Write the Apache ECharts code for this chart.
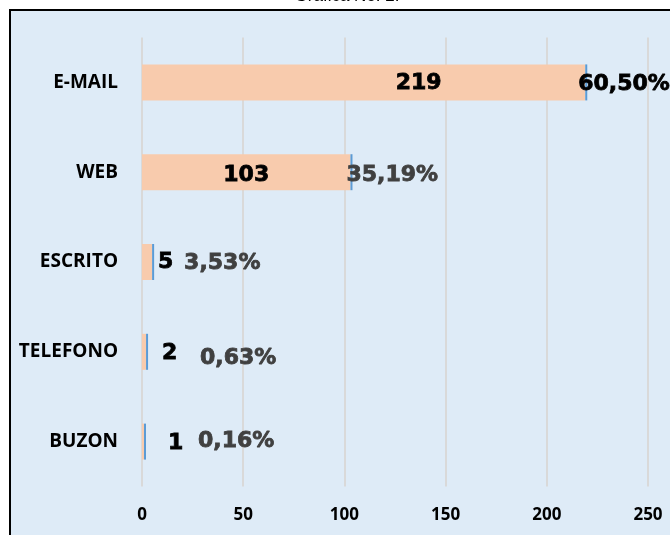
<!DOCTYPE html>
<html><head><meta charset="utf-8">
<script src="https://cdn.jsdelivr.net/npm/echarts@6/dist/echarts.min.js"></script>
<style>html,body{margin:0;padding:0;background:#fff}#c{width:670px;height:535px}</style>
</head><body><div id="c"></div>
<script>
const categories = ['E-MAIL','WEB','ESCRITO','TELEFONO','BUZON'];
const counts = [219, 103, 5, 2, 1];
const percents = [60.50, 35.19, 3.53, 0.63, 0.16];
const xTicks = [0, 50, 100, 150, 200, 250];

// label placement (styling, kept separate from data)
const countLabelPos = [
  {position:'inside', offset:[55,1]},
  {position:'inside', offset:[0,3]},
  {position:'right', distance:0, offset:[6,0]},
  {position:'right', distance:0, offset:[16,1]},
  {position:'right', distance:0, offset:[24,2]}
];
const pctLabelPos = [
  {offset:[-9,2], color:'#000', textBorderColor:'#000'},
  {offset:[-6,3]},
  {offset:[30,1]},
  {offset:[52,6]},
  {offset:[52,0]}
];

const chart = echarts.init(document.getElementById('c'));
const fmtPct = v => v.toFixed(2).replace('.', ',') + '%';
const valFont = {fontFamily:'DejaVu Sans', fontWeight:'bold', fontSize:22};

const cats = categories.slice().reverse();
const cData = counts.map((v,i)=>({value:v, label:Object.assign({}, countLabelPos[i])})).reverse();
const pData = percents.map((v,i)=>({value:v/100, pct:v, label:Object.assign({position:'right', distance:0}, pctLabelPos[i])})).reverse();

chart.setOption({
  animation:false,
  backgroundColor:'#ffffff',
  graphic:[
    {type:'rect', z:-10, shape:{x:10,y:10,width:700,height:600}, style:{fill:'#deebf7', stroke:'#000', lineWidth:2}},
    {type:'text', x:347, y:5, z:10, style:{text:'Grafica No. 2.', fontSize:17, fontFamily:'Liberation Sans', fill:'#000', align:'center', verticalAlign:'bottom'}}
  ],
  grid:{left:142, top:37.5, width:506, height:449, containLabel:false},
  xAxis:{type:'value', min:0, max:250, interval:50,
    axisLine:{show:false}, axisTick:{show:false},
    splitLine:{show:true, lineStyle:{color:'#d9d9d9', width:2}},
    axisLabel:{margin:20, color:'#000', fontFamily:'Open Sans', fontWeight:'bold', fontSize:17,
      formatter: v => xTicks.includes(v) ? String(v) : ''}},
  yAxis:{type:'category', data:cats,
    axisLine:{show:false}, axisTick:{show:false},
    axisLabel:{margin:24, color:'#000', fontFamily:'Open Sans', fontWeight:'bold', fontSize:19}},
  series:[
    {type:'bar', stack:'s', data:cData, barWidth:36, itemStyle:{color:'#f8cbad'},
      label:Object.assign({show:true, color:'#000', textBorderColor:'#000', textBorderWidth:0.8}, valFont)},
    {type:'bar', stack:'s', data:pData, barWidth:36, barMinHeight:2, itemStyle:{color:'#5b9bd5'},
      label:Object.assign({show:true, color:'#404040', textBorderColor:'#404040', textBorderWidth:0.8, formatter:p=>fmtPct(p.data.pct)}, valFont)}
  ]
});
</script></body></html>
